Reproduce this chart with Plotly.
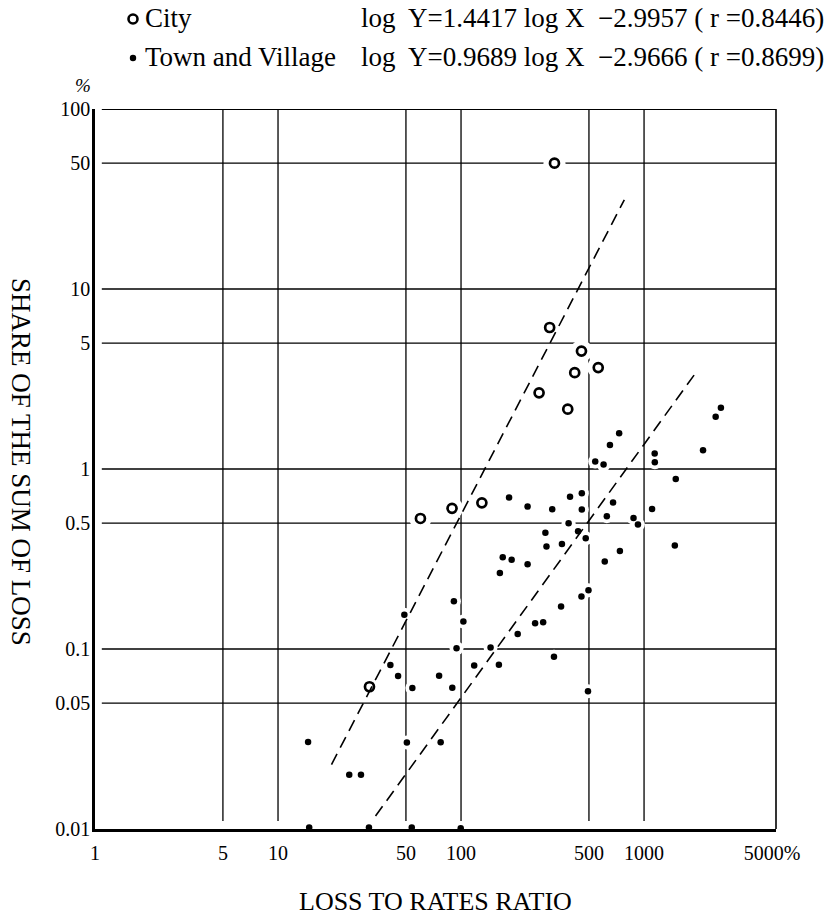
import plotly.graph_objects as go

# ---------------- data ----------------
city_x = [324, 305, 455, 418, 562, 267, 383, 60.0, 89.3, 130, 31.6]
city_y = [50.0, 6.11, 4.52, 3.43, 3.66, 2.65, 2.15, 0.531, 0.605, 0.649, 0.0617]

town_x = [2462, 2630, 731, 651, 541, 601, 1143, 1145, 2100, 1490,
          183, 231, 315, 394, 457, 457, 677, 626, 1106, 876,
          926, 387, 289, 436, 293, 356, 480, 1473, 738, 610,
          169, 189, 231, 163, 497, 455, 352, 91.4, 103, 254,
          281, 204, 49.0, 94.5, 145, 322, 41.1, 45.3, 54.2, 75.9,
          89.6, 118, 161, 494, 14.6, 50.6, 77.4, 24.5, 28.4, 14.8,
          31.4, 53.8, 99.6]
town_y = [1.95, 2.19, 1.58, 1.36, 1.10, 1.06, 1.22, 1.09, 1.27, 0.879,
          0.695, 0.618, 0.598, 0.702, 0.733, 0.595, 0.652, 0.547, 0.600, 0.535,
          0.491, 0.499, 0.442, 0.451, 0.371, 0.383, 0.412, 0.376, 0.350, 0.306,
          0.323, 0.313, 0.296, 0.264, 0.212, 0.196, 0.172, 0.184, 0.142, 0.139,
          0.141, 0.121, 0.155, 0.101, 0.102, 0.0905, 0.0814, 0.0708, 0.0608, 0.0710,
          0.0610, 0.0809, 0.0817, 0.0582, 0.0304, 0.0302, 0.0303, 0.0200, 0.0200, 0.0102,
          0.0102, 0.0102, 0.0101]

# fitted lines as drawn (end points)
city_line_x = [19.6, 780]
city_line_y = [0.0228, 31.3]
town_line_x = [34.1, 1923]
town_line_y = [0.0118, 3.44]

x_tickvals = [1, 5, 10, 50, 100, 500, 1000, 5000]
x_ticktext = ["1", "5", "10", "50", "100", "500", "1000", "5000%"]
y_tickvals = [0.01, 0.05, 0.1, 0.5, 1, 5, 10, 50, 100]
y_ticktext = ["0.01", "0.05", "0.1", "0.5", "1", "5", "10", "50", "100"]
x_grid = [5, 10, 50, 100, 500, 1000]
y_grid = [0.05, 0.1, 0.5, 1, 5, 10, 50, 100]

legend_labels = ["City", "Town and Village"]
equations = ["log  Y=1.4417 log X  \u22122.9957 ( r =0.8446)",
             "log  Y=0.9689 log X  \u22122.9666 ( r =0.8699)"]
x_title = "LOSS TO RATES RATIO"
y_title = "SHARE OF THE SUM OF LOSS"

FONT = "Liberation Serif, Times New Roman, serif"

fig = go.Figure()

# white halos that interrupt the grid lines around the points
fig.add_trace(go.Scatter(x=town_x, y=town_y, mode="markers", hoverinfo="skip",
                         marker=dict(size=14, color="white"), showlegend=False, cliponaxis=False))
fig.add_trace(go.Scatter(x=city_x, y=city_y, mode="markers", hoverinfo="skip",
                         marker=dict(size=22, color="white"), showlegend=False, cliponaxis=False))

# dashed fitted lines
fig.add_trace(go.Scatter(x=city_line_x, y=city_line_y, mode="lines", showlegend=False,
                         line=dict(color="black", width=1.6, dash="12px,7px")))
fig.add_trace(go.Scatter(x=town_line_x, y=town_line_y, mode="lines", showlegend=False,
                         line=dict(color="black", width=1.6, dash="12px,7px")))

# points
fig.add_trace(go.Scatter(x=town_x, y=town_y, mode="markers", name=legend_labels[1],
                         marker=dict(size=6.5, color="black"), showlegend=False, cliponaxis=False))
fig.add_trace(go.Scatter(x=city_x, y=city_y, mode="markers", name=legend_labels[0],
                         marker=dict(size=9, symbol="circle-open", color="black",
                                     line=dict(width=2.7, color="black")),
                         showlegend=False, cliponaxis=False))

shapes = []
for v in x_grid:
    shapes.append(dict(type="line", xref="x", yref="paper", x0=v, x1=v, y0=0.011, y1=1,
                       line=dict(color="black", width=1.3), layer="below"))
for v in y_grid:
    w = 2.2 if v == 100 else 1.3
    shapes.append(dict(type="line", xref="paper", yref="y", x0=0.010, x1=1, y0=v, y1=v,
                       line=dict(color="black", width=w), layer="below"))
# right frame line
shapes.append(dict(type="line", xref="paper", yref="paper", x0=1, x1=1, y0=0.0, y1=1,
                   line=dict(color="black", width=1.6), layer="below"))
# legend symbols
shapes.append(dict(type="circle", xref="paper", yref="paper", xsizemode="pixel", ysizemode="pixel",
                   xanchor=0.0558, yanchor=1.1250, x0=-4.5, x1=4.5, y0=-4.5, y1=4.5,
                   line=dict(color="black", width=2.6), fillcolor="white"))
shapes.append(dict(type="circle", xref="paper", yref="paper", xsizemode="pixel", ysizemode="pixel",
                   xanchor=0.0558, yanchor=1.0708, x0=-3.2, x1=3.2, y0=-3.2, y1=3.2,
                   line=dict(color="black", width=0), fillcolor="black"))

annotations = [
    dict(text=legend_labels[0], x=0.0705, y=1.1264, xanchor="left", yanchor="middle"),
    dict(text=legend_labels[1], x=0.0705, y=1.0722, xanchor="left", yanchor="middle"),
    dict(text=equations[0], x=1.0734, y=1.1264, xanchor="right", yanchor="middle"),
    dict(text=equations[1], x=1.0734, y=1.0722, xanchor="right", yanchor="middle"),
    dict(text="<i>%</i>", x=-0.0176, y=1.0333, xanchor="center", yanchor="middle", font_size=19),
    dict(text=y_title, x=-0.1087, y=0.5097, xanchor="center", yanchor="middle", textangle=90, font_size=27),
    dict(text=x_title, x=0.4993, y=-0.1000, xanchor="center", yanchor="middle", font_size=26),
]
for a in annotations:
    a.update(xref="paper", yref="paper", showarrow=False)
    f = dict(family=FONT, size=a.pop("font_size", 27), color="black")
    a["font"] = f

fig.update_layout(
    width=834, height=920,
    margin=dict(l=95, r=58, t=109, b=91),
    paper_bgcolor="white", plot_bgcolor="white",
    showlegend=False,
    shapes=shapes, annotations=annotations,
    font=dict(family=FONT, color="black"),
)
fig.update_xaxes(type="log", range=[0, 3.721], tickvals=x_tickvals, ticktext=x_ticktext,
                 showgrid=False, zeroline=False, showline=True, linecolor="black", linewidth=2.5,
                 ticks="", tickfont=dict(family=FONT, size=20, color="black"), ticklabelstandoff=4)
fig.update_yaxes(type="log", range=[-2, 2], tickvals=y_tickvals, ticktext=y_ticktext,
                 showgrid=False, zeroline=False, showline=True, linecolor="black", linewidth=2.5,
                 ticks="", tickfont=dict(family=FONT, size=20, color="black"), ticklabelstandoff=-2)

fig.write_html("out.html")
